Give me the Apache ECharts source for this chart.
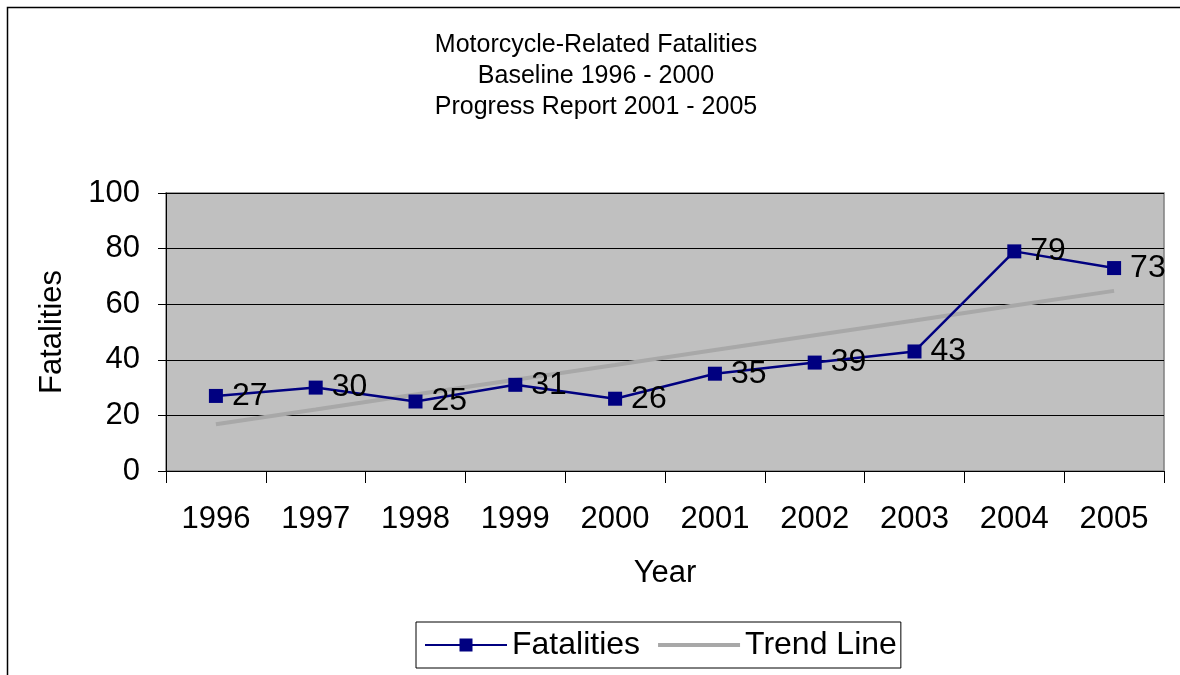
<!DOCTYPE html>
<html>
<head>
<meta charset="utf-8">
<script src="https://cdn.jsdelivr.net/npm/echarts@6/dist/echarts.min.js"></script>
<style>
  html, body { margin: 0; padding: 0; background: #fff; }
  #chart { width: 1180px; height: 675px; }
</style>
</head>
<body>
<div id="chart"></div>
<script>
// 数据
const years = ['1996', '1997', '1998', '1999', '2000', '2001', '2002', '2003', '2004', '2005']
const fatalities = [27, 30, 25, 31, 26, 35, 39, 43, 79, 73]
const trendLine = [16.8, 22.1, 27.5, 32.8, 38.1, 43.5, 48.8, 54.1, 59.5, 64.8]
const titleLines = ['Motorcycle-Related Fatalities', 'Baseline 1996 - 2000', 'Progress Report 2001 - 2005']

const myEcharts = echarts.init(document.getElementById('chart'))
const font = 'Arial, "Liberation Sans", sans-serif'
const option = {
  animation: false,
  backgroundColor: '#fff',
  textStyle: { fontFamily: font },
  title: {
    text: titleLines.join('\n'),
    left: 591,
    top: 25,
    textAlign: 'center',
    textStyle: { fontSize: 25, fontWeight: 'normal', color: '#000', lineHeight: 31, fontFamily: font }
  },
  // 外框
  graphic: [{
    type: 'rect',
    shape: { x: 7.5, y: 7.5, width: 1200, height: 700 },
    style: { fill: null, stroke: '#000', lineWidth: 1.5 },
    silent: true
  }],
  grid: {
    left: 166,
    right: 16,
    top: 193,
    bottom: 204,
    show: true,
    backgroundColor: '#C0C0C0',
    borderColor: '#808080',
    borderWidth: 1.5
  },
  legend: {
    bottom: 7,
    left: 416,
    padding: [7, 4, 7, 9],
    itemGap: 18,
    itemWidth: 82,
    itemHeight: 14,
    borderColor: '#000',
    borderWidth: 1,
    borderRadius: 0,
    backgroundColor: '#fff',
    textStyle: { fontSize: 32, color: '#000', fontFamily: font },
    data: [
      { name: 'Fatalities', icon: 'path://M0,6L34.5,6L34.5,0.5L47.5,0.5L47.5,6L82,6L82,8L47.5,8L47.5,13.5L34.5,13.5L34.5,8L0,8Z' },
      { name: 'Trend Line', icon: 'path://M0,5L82,5L82,9L0,9Z' }
    ]
  },
  xAxis: {
    type: 'category',
    data: years,
    boundaryGap: true,
    name: 'Year',
    nameLocation: 'middle',
    nameGap: 87,
    nameTextStyle: { fontSize: 31, color: '#000' },
    axisLine: { lineStyle: { color: '#000', width: 1 } },
    axisTick: { show: true, length: 12, lineStyle: { color: '#000' } },
    axisLabel: { fontSize: 31, color: '#000', margin: 33 }
  },
  yAxis: {
    type: 'value',
    min: 0,
    max: 100,
    interval: 20,
    name: 'Fatalities',
    nameLocation: 'middle',
    nameGap: 98,
    nameTextStyle: { fontSize: 31, color: '#000' },
    axisLine: { show: true, lineStyle: { color: '#000', width: 1 } },
    axisTick: { show: true, length: 8, lineStyle: { color: '#000' } },
    axisLabel: { fontSize: 31, color: '#000', margin: 26 },
    splitLine: { lineStyle: { color: '#000', width: 1 } }
  },
  series: [
    {
      name: 'Trend Line',
      type: 'line',
      data: trendLine,
      symbol: 'none',
      color: '#A8A8A8',
      lineStyle: { color: '#A8A8A8', width: 4 },
      z: 1
    },
    {
      name: 'Fatalities',
      type: 'line',
      data: fatalities,
      symbol: 'rect',
      symbolSize: 14,
      color: '#000080',
      lineStyle: { color: '#000080', width: 2.5 },
      itemStyle: { color: '#000080' },
      label: {
        show: true,
        position: 'right',
        distance: 9,
        fontSize: 32,
        color: '#000',
        fontFamily: font
      },
      z: 3
    }
  ]
}
myEcharts.setOption(option)
</script>
</body>
</html>
